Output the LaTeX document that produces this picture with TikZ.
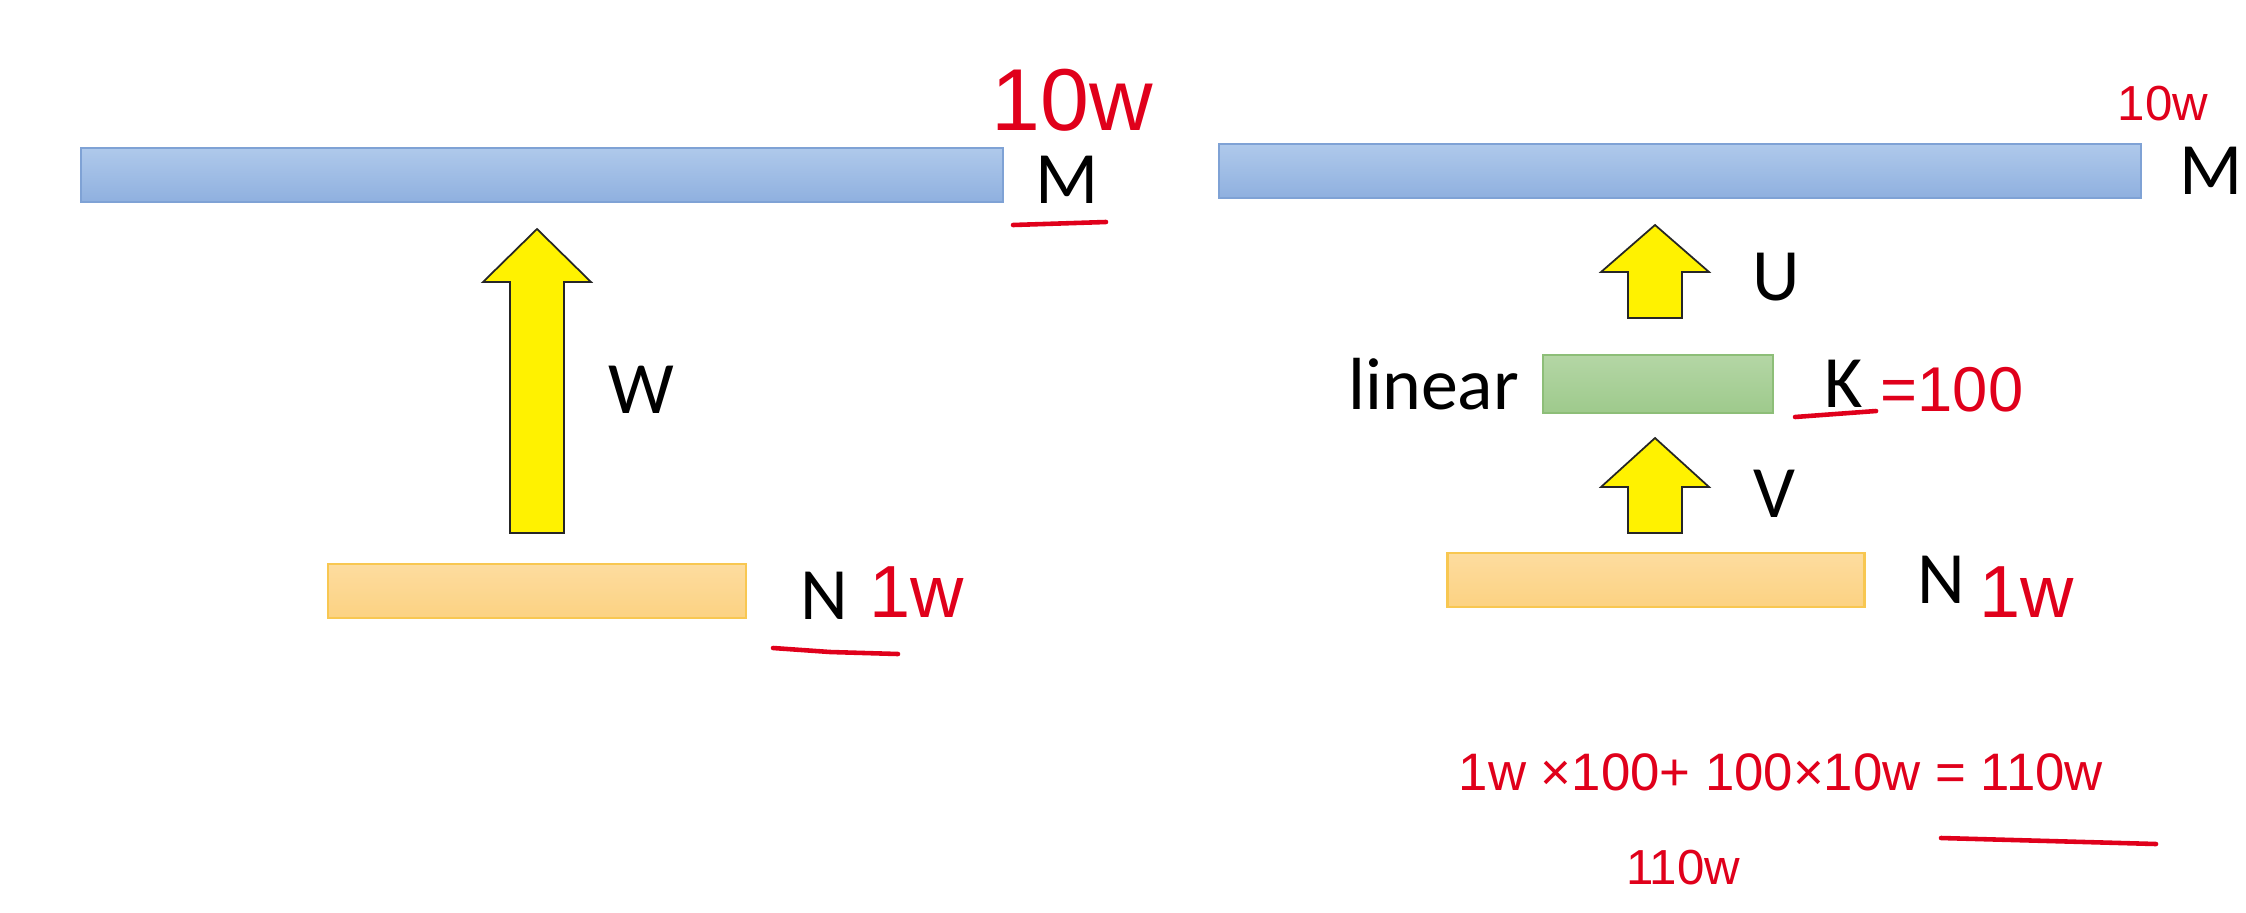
\documentclass[tikz,border=0pt]{standalone}
\usepackage{fontspec}
\setmainfont{Carlito}
\newfontfamily\handfont{Liberation Sans}
\usepackage{tikz}
\usetikzlibrary{positioning}
\usetikzlibrary{calc}
\definecolor{bluetop}{HTML}{AFC9EB}
\definecolor{bluebot}{HTML}{8FB0DF}
\definecolor{blueline}{HTML}{7FA2D5}
\definecolor{orangetop}{HTML}{FDDC9F}
\definecolor{orangebot}{HTML}{FCD282}
\definecolor{orangeline}{HTML}{F8C751}
\definecolor{greentop}{HTML}{B4D6A5}
\definecolor{greenbot}{HTML}{9ECA8C}
\definecolor{greenline}{HTML}{8DBE78}
\definecolor{penred}{HTML}{E0001B}
\tikzset{
    low rank/.style={
            x=0.01cm,y=-0.01cm,
            node distance=0.3cm,
            bar/.style={draw, line width=0.7pt, inner sep=0pt},
            blue bar/.style={bar, draw=blueline, top color=bluetop, bottom color=bluebot, minimum height=0.54cm},
            orange bar/.style={bar, draw=orangeline, top color=orangetop, bottom color=orangebot, minimum height=0.54cm},
            green bar/.style={bar, draw=greenline, top color=greentop, bottom color=greenbot, minimum height=0.58cm},
            yarrow/.style={fill=yellow, draw=black!85, line width=0.5pt, line join=miter},
            lbl/.style={inner sep=0pt, font=\fontsize{21}{25}\selectfont},
            hand/.style={inner sep=0pt, text=penred, font=\handfont\fontsize{##1}{##1}\selectfont},
            pen/.style={draw=penred, line width=1.3pt, line cap=round}
        }
    }
% tail, tip, head length
\newcommand{\blockarrow}[3]{%
    \filldraw [yarrow] ($(#1)+(-27,0)$) -- ($(#2)+(-27,#3)$) -- ($(#2)+(-54,#3)$) -- (#2)
        -- ($(#2)+(54,#3)$) -- ($(#2)+(27,#3)$) -- ($(#1)+(27,0)$) -- cycle;}

\begin{document}
\begin{tikzpicture}[low rank]
        \useasboundingbox (0,0) rectangle (2246,912);

        % left: one full W
        \node (lM) [blue bar, minimum width=9.21cm] at (542,175) {};
        \node (lN) [orange bar, minimum width=4.18cm] at (537,591) {};
        \node (lMtxt) [lbl, right=0.31cm of lM, yshift=-0.05cm] {M};
        \node (lNtxt) [lbl, right=0.52cm of lN, yshift=-0.05cm] {N};
        \coordinate (lWtail) at (537,533);
        \coordinate (lWtip) at (537,229);
        \blockarrow{lWtail}{lWtip}{53}
        \node (lW) [lbl] at (641,390) {W};

        % right: V then U through K
        \node (rM) [blue bar, minimum width=9.21cm] at (1680,171) {};
        \node (rK) [green bar, minimum width=2.30cm] at (1658,384) {};
        \node (rN) [orange bar, minimum width=4.17cm] at (1656,580) {};
        \node (rMtxt) [lbl, right=0.37cm of rM] {M};
        \node (rKtxt) [lbl, right=0.49cm of rK] {K};
        \node (rlin) [lbl, left=0.22cm of rK] {linear};
        \node (rNtxt) [lbl, right=0.51cm of rN] {N};
        \coordinate (rUtail) at (1655,318);
        \coordinate (rUtip) at (1655,225);
        \coordinate (rVtail) at (1655,533);
        \coordinate (rVtip) at (1655,438);
        \blockarrow{rUtail}{rUtip}{47}
        \blockarrow{rVtail}{rVtip}{49}
        \node (rU) [lbl] at (1776,277) {U};
        \node (rV) [lbl] at (1774,494) {V};

        % pen notes
        \node (lMsize) [hand=25] at (1072,100) {10w};
        \node (lNsize) [hand=21] at (917,592) {1w};
        \node (rMsize) [hand=14] at (2163,104) {10w};
        \node (rNsize) [hand=21] at (2027,592) {1w};
        \node (rKsize) [hand=18] at (1952,390) {=100};
        \node (sum) [hand=15] at (1781,772) {1w ×100+ 100×10w = 110w};
        \node (sum2) [hand=14] at (1683,868) {110w};
        \draw [pen] (1013,225) -- (1106,222);
        \draw [pen] (773,648) -- (830,652) -- (898,654);
        \draw [pen] (1795,417) -- (1876,411);
        \draw [pen] (1941,838) -- (2156,844);
    \end{tikzpicture}
\end{document}
